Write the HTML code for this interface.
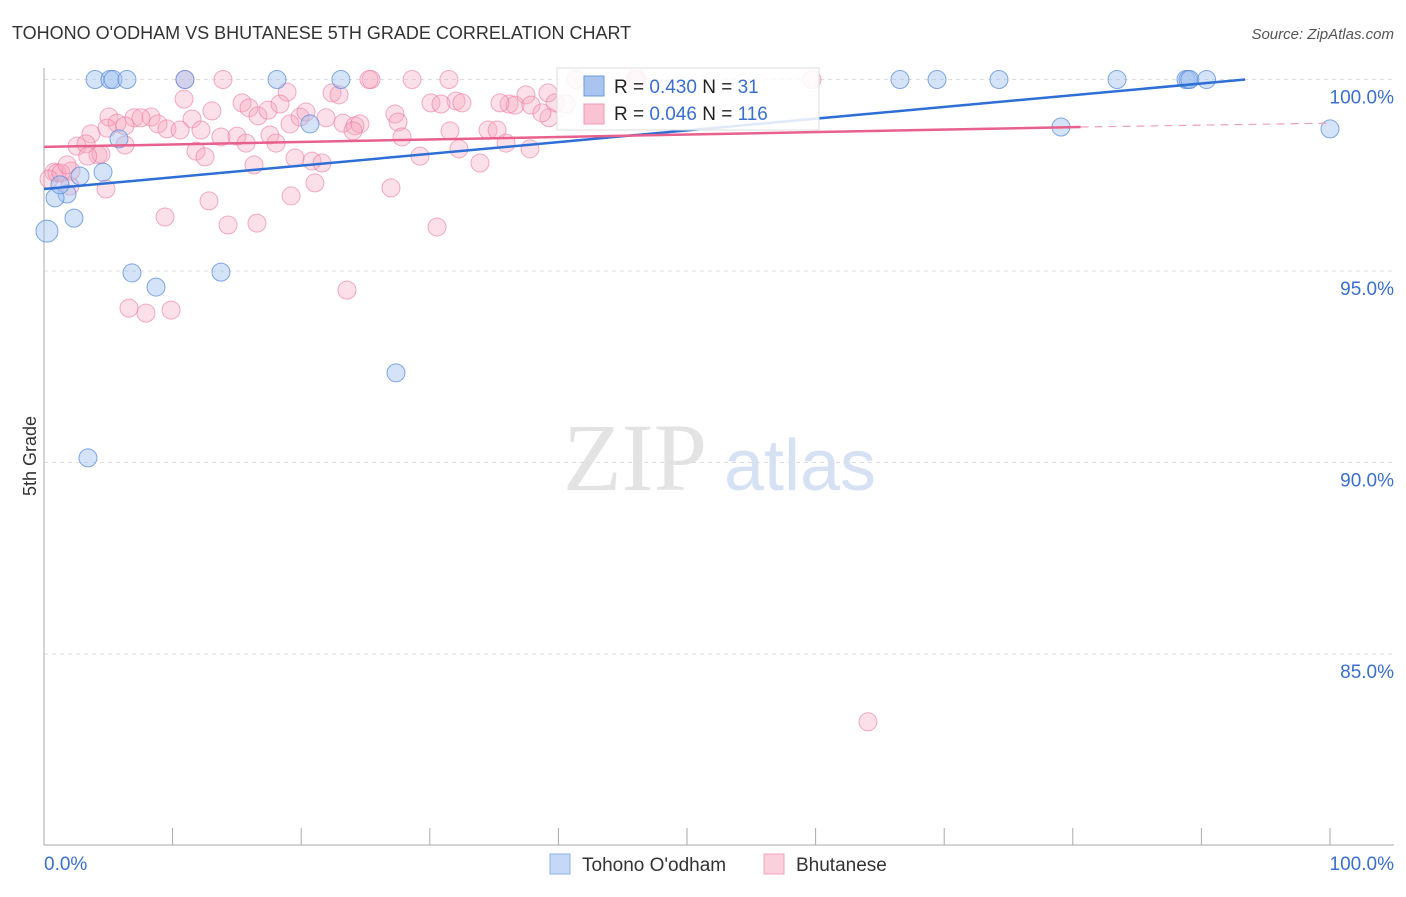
<!DOCTYPE html>
<html><head><meta charset="utf-8"><style>
body{margin:0;background:#fff;font-family:"Liberation Sans",sans-serif}
</style></head><body>
<svg id="c" width="1406" height="892" xmlns="http://www.w3.org/2000/svg">
<text x="12" y="39" font-size="18" fill="#333">TOHONO O'ODHAM VS BHUTANESE 5TH GRADE CORRELATION CHART</text>
<text x="1394" y="39" font-size="15" fill="#555" font-style="italic" text-anchor="end">Source: ZipAtlas.com</text>
<text x="36" y="456" font-size="18" fill="#333" text-anchor="middle" transform="rotate(-90 36 456)">5th Grade</text>
<g><text x="635" y="490" font-size="96" fill="#e3e3e3" font-family="Liberation Serif,serif" text-anchor="middle">ZIP</text><text x="800" y="490" font-size="72" fill="#d6e2f4" text-anchor="middle">atlas</text></g>
<g id="grid"></g><g id="marks"></g><g id="lines"></g>
<g>
<rect x="557" y="68" width="262" height="62" fill="#fff" fill-opacity="0.85" stroke="#ddd"/>
<rect x="584" y="76" width="20" height="20" fill="#a9c4ef" stroke="#6a9be0"/>
<rect x="584" y="104" width="20" height="20" fill="#f9c3d3" stroke="#f09ab6"/>
<text x="614" y="93" font-size="19" fill="#222">R = <tspan fill="#3a6fd0">0.430</tspan>   N =   <tspan fill="#3a6fd0">31</tspan></text>
<text x="614" y="120" font-size="19" fill="#222">R = <tspan fill="#3a6fd0">0.046</tspan>   N = <tspan fill="#3a6fd0">116</tspan></text>
</g>
<g>
<rect x="550" y="854" width="20" height="20" fill="#c5d8f5" stroke="#8db0e8"/><text x="582" y="871" font-size="19" fill="#333">Tohono O'odham</text>
<rect x="764" y="854" width="20" height="20" fill="#fad0dc" stroke="#f0a5bd"/><text x="796" y="871" font-size="19" fill="#333">Bhutanese</text>
</g>
<text x="44" y="870" font-size="19" fill="#3a6fd0">0.0%</text>
<text x="1394" y="870" font-size="19" fill="#3a6fd0" text-anchor="end">100.0%</text>
</svg>
<script>
const yTicks=[100,95,90,85];
const yTickLabels=["100.0%","95.0%","90.0%","85.0%"];
const xTicks=[0,10,20,30,40,50,60,70,80,90,100];
const blueX=[3.97,5.13,5.37,6.45,10.96,18.12,23.09,66.56,69.44,74.26,83.44,88.8,88.96,89.1,90.4,79.08,100,20.68,5.83,4.59,2.8,1.79,0.86,1.24,0.23,2.33,6.84,8.71,13.76,27.37,3.42];
const blueY=[100,100,100,100,100,100,100,100,100,100,100,100,100,100,100,98.76,98.71,98.84,98.45,97.58,97.48,97.01,96.91,97.25,96.04,96.38,94.95,94.58,94.97,92.34,90.12];
const pinkX=[10.96,13.92,25.43,25.27,28.62,31.49,46.11,59.72,45.96,41.37,5.05,10.89,18.9,22.4,22.94,30.09,32.04,32.5,36.16,36.63,37.48,39.19,40.59,39.74,5.68,7,8.32,8.86,7.54,11.51,13.06,15.4,15.94,16.64,17.42,18.35,19.91,20.37,21.93,23.25,24.18,24.57,27.29,27.53,30.87,35.46,37.87,39.27,38.72,3.65,4.9,6.3,9.56,10.58,12.21,13.76,15.01,15.71,17.57,18.04,19.13,24.03,27.84,31.57,34.53,35.23,35.93,32.27,2.57,3.27,4.2,4.43,6.3,11.82,12.52,16.33,19.52,20.84,21.62,29.24,33.9,37.79,0.78,1.01,2.02,2.1,0.39,1.32,4.82,9.41,12.83,14.31,16.56,19.21,21.07,26.98,30.56,23.56,6.61,7.93,9.88,64.07,1.8,3.4];
const pinkY=[100,100,100,100,100,100,100,100,100,100,99.02,99.49,99.67,99.65,99.6,99.39,99.44,99.39,99.36,99.33,99.6,99.65,99.36,99.39,98.86,99,99.02,98.84,99,98.97,99.18,99.39,99.26,99.05,99.2,99.36,99.02,99.15,99,98.86,98.79,98.84,99.1,98.89,99.36,99.39,99.33,99,99.13,98.58,98.73,98.79,98.71,98.68,98.68,98.5,98.52,98.34,98.55,98.34,98.84,98.66,98.5,98.66,98.68,98.68,98.34,98.19,98.26,98.32,98.03,98.05,98.29,98.13,97.98,97.77,97.95,97.87,97.82,98,97.82,98.19,97.58,97.56,97.22,97.61,97.4,97.56,97.14,96.41,96.83,96.2,96.25,96.96,97.3,97.17,96.15,94.5,94.03,93.9,93.98,83.23,97.77,98.0];
const blueTrend=[[0,97.14],[93.4,100]];
const pinkTrend=[[0,98.24],[80.6,98.76]];
const pinkTrendExt=[[80.6,98.76],[100,98.86]];
const X=v=>44+v*12.86, Y=v=>79.5+(100-v)*38.3;
const NS="http://www.w3.org/2000/svg";
const g=document.getElementById('grid'),m=document.getElementById('marks'),ln=document.getElementById('lines');
function mk(p,t,a){const e=document.createElementNS(NS,t);for(const k in a)e.setAttribute(k,a[k]);p.appendChild(e);return e;}
yTicks.forEach((t,i)=>{
 const l=mk(g,'line',{x1:44,x2:1394,y1:Y(t),y2:Y(t),stroke:'#ddd','stroke-dasharray':'4 4'});
 
 
 const tx=mk(g,'text',{x:1394,y:Y(t)+24,'font-size':19,fill:'#3a6fd0','text-anchor':'end'});tx.textContent=yTickLabels[i];
 
 
});
const ax=mk(g,'line',{x1:44,x2:44,y1:68,y2:845,stroke:'#aaa'});


const bx=mk(g,'line',{x1:44,x2:1394,y1:845,y2:845,stroke:'#aaa'});


xTicks.forEach(t=>{const l=mk(g,'line',{x1:X(t),x2:X(t),y1:828,y2:845,stroke:'#aaa'});
 
 });
pinkX.forEach((v,i)=>{const c=mk(m,'circle',{cx:X(v),cy:Y(pinkY[i]),r:9,fill:'rgba(247,165,192,0.35)',stroke:'rgba(236,120,158,0.6)'});
 
 });
blueX.forEach((v,i)=>{const c=mk(m,'circle',{cx:X(v),cy:Y(blueY[i]),r:i==24?11:9,fill:'rgba(160,192,240,0.45)',stroke:'rgba(90,140,220,0.75)'});
 
 });
const b=mk(ln,'line',{x1:X(blueTrend[0][0]),y1:Y(blueTrend[0][1]),x2:X(blueTrend[1][0]),y2:Y(blueTrend[1][1]),stroke:'#2d6fd6','stroke-width':2.5});


const p=mk(ln,'line',{x1:X(pinkTrend[0][0]),y1:Y(pinkTrend[0][1]),x2:X(pinkTrend[1][0]),y2:Y(pinkTrend[1][1]),stroke:'#e8608c','stroke-width':2.5});


const pe=mk(ln,'line',{x1:X(pinkTrendExt[0][0]),y1:Y(pinkTrendExt[0][1]),x2:X(pinkTrendExt[1][0]),y2:Y(pinkTrendExt[1][1]),stroke:'#eea0b8','stroke-width':1.2,'stroke-dasharray':'8 6'});


</script>
</body></html>
